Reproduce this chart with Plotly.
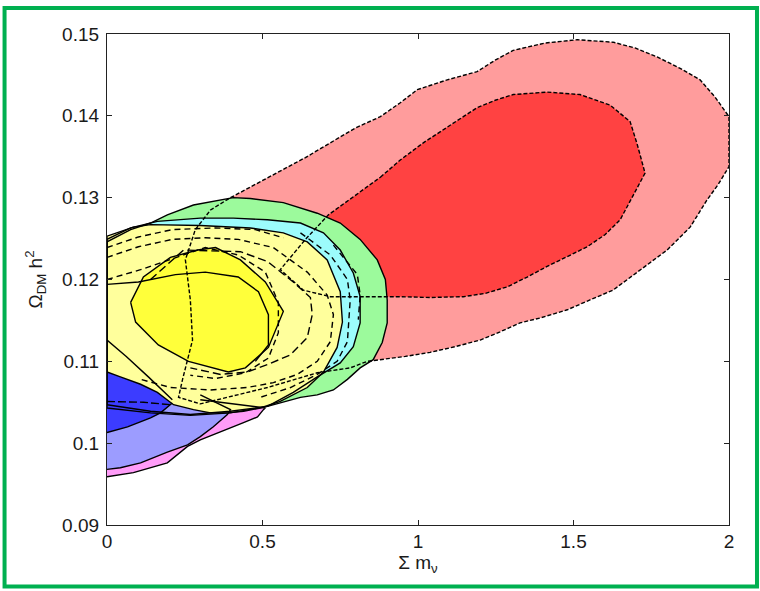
import plotly.graph_objects as go

# ---- contour regions (x = sum m_nu, y = Omega_DM h^2) ----
red_outer_x = [0.397, 0.477, 0.557, 0.638, 0.718, 0.798, 0.879, 0.943, 0.998, 1.094, 1.190, 1.248, 1.306,
               1.409, 1.512, 1.627, 1.698, 1.769, 1.843, 1.907, 1.955, 2.0, 2.0, 1.965, 1.929, 1.875, 1.801,
               1.714, 1.627, 1.553, 1.480, 1.393, 1.328, 1.264, 1.200, 1.120, 1.039, 0.959, 0.879, 0.837,
               0.782, 0.676, 0.516, 0.397, 0.300, 0.230, 0.243, 0.275, 0.268, 0.252, 0.284, 0.333]
red_outer_y = [0.1300, 0.1316, 0.1332, 0.1349, 0.1367, 0.1385, 0.1399, 0.1416, 0.1432, 0.1444, 0.1454, 0.1468,
               0.1480, 0.1489, 0.1493, 0.1490, 0.1483, 0.1472, 0.1458, 0.1444, 0.1423, 0.1399, 0.1338, 0.1316,
               0.1297, 0.1264, 0.1236, 0.1212, 0.1187, 0.1175, 0.1163, 0.1153, 0.1147, 0.1136, 0.1126, 0.1118,
               0.1111, 0.1106, 0.1102, 0.1100, 0.1092, 0.1086, 0.1068, 0.1057, 0.1048, 0.1056, 0.1078, 0.1126,
               0.1175, 0.1224, 0.1261, 0.1285]

red_inner_x = [0.879, 0.943, 1.017, 1.104, 1.190, 1.248, 1.306, 1.415, 1.521, 1.618, 1.682, 1.705, 1.730,
               1.688, 1.650, 1.602, 1.544, 1.480, 1.415, 1.351, 1.287, 1.216, 1.146, 1.039, 0.943, 0.718,
               0.631, 0.557, 0.638, 0.712, 0.798]
red_inner_y = [0.1325, 0.1346, 0.1367, 0.1389, 0.1410, 0.1419, 0.1426, 0.1429, 0.1426, 0.1413, 0.1393, 0.1365,
               0.1330, 0.1300, 0.1273, 0.1255, 0.1240, 0.1228, 0.1216, 0.1203, 0.1191, 0.1183, 0.1179, 0.1178,
               0.1179, 0.1179, 0.1187, 0.1212, 0.1249, 0.1279, 0.1303]

green_x = [0.0, 0.076, 0.140, 0.194, 0.278, 0.406, 0.461, 0.567, 0.676, 0.750, 0.814, 0.869, 0.895, 0.901,
           0.901, 0.885, 0.856, 0.814, 0.773, 0.728, 0.676, 0.622, 0.516, 0.397, 0.268, 0.140, 0.0]
green_y = [0.1246, 0.1261, 0.1269, 0.1279, 0.1291, 0.1300, 0.1299, 0.1294, 0.1281, 0.1269, 0.1249, 0.1224,
           0.1200, 0.1175, 0.1147, 0.1123, 0.1102, 0.1092, 0.1078, 0.1065, 0.1059, 0.1056, 0.1045, 0.1039,
           0.1035, 0.1039, 0.1047]

cyan_x = [0.0, 0.076, 0.162, 0.300, 0.406, 0.516, 0.622, 0.696, 0.750, 0.792, 0.814, 0.814, 0.792, 0.750,
          0.676, 0.599, 0.516, 0.397, 0.268, 0.140, 0.0]
cyan_y = [0.1249, 0.1263, 0.1271, 0.1275, 0.1275, 0.1273, 0.1269, 0.1257, 0.1236, 0.1208, 0.1179, 0.1147,
          0.1118, 0.1098, 0.1081, 0.1062, 0.1045, 0.1037, 0.1034, 0.1037, 0.1043]

yellow_outer_x = [0.0, 0.085, 0.140, 0.300, 0.461, 0.567, 0.644, 0.708, 0.750, 0.757, 0.740, 0.696, 0.644,
                  0.557, 0.493, 0.439, 0.387, 0.333, 0.278, 0.214, 0.162, 0.108, 0.043, 0.0]
yellow_outer_y = [0.1253, 0.1264, 0.1267, 0.1266, 0.1263, 0.1257, 0.1246, 0.1224, 0.1185, 0.1148, 0.1117,
                  0.1087, 0.1068, 0.1051, 0.1043, 0.1039, 0.1037, 0.1037, 0.1041, 0.1047, 0.1062, 0.1072,
                  0.1081, 0.1087]

yellow_inner_x = [0.076, 0.117, 0.204, 0.291, 0.349, 0.429, 0.509, 0.567, 0.519, 0.445, 0.390, 0.262, 0.165, 0.092]
yellow_inner_y = [0.1172, 0.1203, 0.1227, 0.1236, 0.1239, 0.1224, 0.1197, 0.1161, 0.1117, 0.1092, 0.1087,
                  0.1100, 0.1120, 0.1148]

blue_inner_x = [0.0, 0.140, 0.210, 0.172, 0.140, 0.066, 0.0]
blue_inner_y = [0.1102, 0.1084, 0.1049, 0.1037, 0.1031, 0.1020, 0.1013]

blue_outer_x = [0.0, 0.300, 0.397, 0.387, 0.342, 0.300, 0.259, 0.194, 0.108, 0.043, 0.0]
blue_outer_y = [0.1096, 0.1059, 0.1041, 0.1035, 0.1020, 0.1008, 0.0998, 0.0989, 0.0976, 0.0970, 0.0968]

magenta_x = [0.0, 0.300, 0.509, 0.503, 0.484, 0.439, 0.387, 0.300, 0.259, 0.194, 0.085, 0.0]
magenta_y = [0.1090, 0.1053, 0.1043, 0.1041, 0.1032, 0.1025, 0.1017, 0.1004, 0.0996, 0.0976, 0.0964, 0.0959]

# ---- extra (unfilled) contour lines inside the overlap area ----
line_a_x = [0.0, 0.101, 0.220, 0.316, 0.422, 0.487, 0.519, 0.519, 0.477]
line_a_y = [0.1194, 0.1197, 0.1206, 0.1209, 0.1203, 0.1185, 0.1157, 0.1120, 0.1100]
line_b_x = [0.0, 0.108, 0.246, 0.316, 0.422, 0.509, 0.551, 0.551, 0.519, 0.445, 0.349, 0.268]
line_b_y = [0.1200, 0.1212, 0.1230, 0.1239, 0.1230, 0.1209, 0.1172, 0.1135, 0.1104, 0.1086, 0.1079, 0.1083]
line_c_x = [0.0, 0.101, 0.210, 0.349, 0.477, 0.567]
line_c_y = [0.1239, 0.1252, 0.1261, 0.1263, 0.1261, 0.1251]
line_d_x = [0.0, 0.101, 0.210, 0.316, 0.422, 0.535, 0.644, 0.708, 0.728, 0.718, 0.676, 0.612, 0.535, 0.451,
            0.333, 0.204, 0.108]
line_d_y = [0.1227, 0.1240, 0.1249, 0.1251, 0.1249, 0.1239, 0.1209, 0.1181, 0.1157, 0.1124, 0.1100, 0.1084,
            0.1074, 0.1068, 0.1065, 0.1068, 0.1078]
line_e_x = [0.140, 0.246, 0.429, 0.516, 0.599, 0.654, 0.660, 0.644, 0.590, 0.516, 0.451, 0.365, 0.268]
line_e_y = [0.1200, 0.1236, 0.1234, 0.1222, 0.1197, 0.1178, 0.1157, 0.1129, 0.1108, 0.1096, 0.1087, 0.1084, 0.1092]
line_f_x = [0.622, 0.718, 0.773, 0.782, 0.773, 0.740, 0.676, 0.590, 0.493]
line_f_y = [0.1257, 0.1230, 0.1200, 0.1175, 0.1124, 0.1100, 0.1084, 0.1068, 0.1056]
line_g_x = [0.728, 0.805, 0.814, 0.808]
line_g_y = [0.1242, 0.1206, 0.1181, 0.1151]
line_h_x = [0.0, 0.117, 0.204]
line_h_y = [0.1051, 0.1050, 0.1047]
line_i_x = [0.0, 0.062, 0.133, 0.210]
line_i_y = [0.1126, 0.1106, 0.1081, 0.1053]

x_ticks = [0, 0.5, 1, 1.5, 2]
x_tick_text = ["0", "0.5", "1", "1.5", "2"]
y_ticks = [0.09, 0.10, 0.11, 0.12, 0.13, 0.14, 0.15]
y_tick_text = ["0.09", "0.1", "0.11", "0.12", "0.13", "0.14", "0.15"]

fig = go.Figure()


def closed(xs, ys):
    return list(xs) + [xs[0]], list(ys) + [ys[0]]


fills = [
    (red_outer_x, red_outer_y, "#FF9C9C"),
    (red_inner_x, red_inner_y, "#FF4242"),
    (green_x, green_y, "#9CFA9C"),
    (cyan_x, cyan_y, "#9CFCFC"),
    (magenta_x, magenta_y, "#FF9CF8"),
    (blue_outer_x, blue_outer_y, "#9C9CFF"),
    (blue_inner_x, blue_inner_y, "#3C3CFF"),
    (yellow_outer_x, yellow_outer_y, "#FFFF9C"),
    (yellow_inner_x, yellow_inner_y, "#FFFF3A"),
]
for xs, ys, col in fills:
    cx, cy = closed(xs, ys)
    fig.add_trace(go.Scatter(x=cx, y=cy, mode="lines", fill="toself", fillcolor=col,
                             line=dict(width=0, color=col), hoverinfo="skip", showlegend=False))

outlines = [
    (red_outer_x, red_outer_y, "4px,2px", True),
    (red_inner_x, red_inner_y, "4px,2px", True),
    (green_x, green_y, "solid", True),
    (cyan_x, cyan_y, "solid", True),
    (magenta_x[1:], magenta_y[1:], "solid", False),
    (blue_outer_x[1:], blue_outer_y[1:], "solid", False),
    (blue_inner_x[2:], blue_inner_y[2:], "solid", False),
    (yellow_outer_x, yellow_outer_y, "solid", True),
    (yellow_inner_x, yellow_inner_y, "solid", True),
    (line_a_x, line_a_y, "solid", False),
    (line_b_x, line_b_y, "6px,4px", False),
    (line_c_x, line_c_y, "6px,4px", False),
    (line_d_x, line_d_y, "6px,4px", False),
    (line_e_x, line_e_y, "8px,4px", False),
    (line_f_x, line_f_y, "6px,4px", False),
    (line_g_x, line_g_y, "6px,4px", False),
    (line_h_x, line_h_y, "8px,3px", False),
    (line_i_x, line_i_y, "solid", False),
]
for xs, ys, dash, close in outlines:
    if close:
        cx, cy = closed(xs, ys)
    else:
        cx, cy = list(xs), list(ys)
    fig.add_trace(go.Scatter(x=cx, y=cy, mode="lines",
                             line=dict(width=1.4, color="black", dash=dash),
                             hoverinfo="skip", showlegend=False))

font_family = "Liberation Sans, Arial, Helvetica, sans-serif"
axis_common = dict(showgrid=False, zeroline=False, showline=True, linecolor="#222222", linewidth=1.2,
                   mirror="ticks", ticks="inside", ticklen=5, tickcolor="#222222", tickwidth=1,
                   tickfont=dict(family=font_family, size=19, color="#1a1a1a"))

fig.update_layout(
    width=760, height=591,
    margin=dict(l=107, r=31, t=34, b=66),
    paper_bgcolor="white", plot_bgcolor="white",
    xaxis=dict(range=[0, 2], tickvals=x_ticks, ticktext=x_tick_text,
               title=dict(text="Σ m<sub>ν</sub>", font=dict(family=font_family, size=19, color="#1a1a1a"),
                          standoff=0),
               ticklabelstandoff=-1, **axis_common),
    yaxis=dict(range=[0.09, 0.15], tickvals=y_ticks, ticktext=y_tick_text,
               title=dict(text="Ω<sub>DM</sub> h<sup>2</sup>",
                          font=dict(family=font_family, size=19, color="#1a1a1a"), standoff=14),
               ticklabelstandoff=3, **axis_common),
    shapes=[dict(type="rect", xref="paper", yref="paper", x0=-0.1647, x1=1.0450, y0=-0.1251, y1=1.0529,
                 line=dict(color="#00B050", width=4), fillcolor="rgba(0,0,0,0)", layer="above")],
    showlegend=False,
)

fig.write_html("out.html")
